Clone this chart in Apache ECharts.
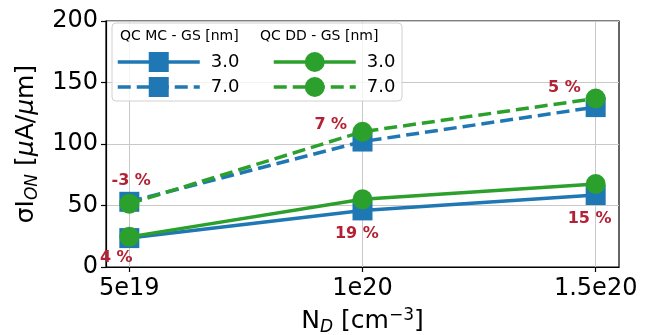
<!DOCTYPE html>
<html>
<head>
<meta charset="utf-8">
<script src="https://cdn.jsdelivr.net/npm/echarts@6/dist/echarts.min.js"></script>
<style>
  html, body { margin: 0; padding: 0; background: #fff; }
  #chart { width: 657px; height: 335px; }
</style>
</head>
<body>
<div id="chart"></div>
<script>
// doping N_D, in units of 1e19 cm^-3
const nd = [5, 10, 15];
const ndTickLabels = ['5e19', '1e20', '1.5e20'];

// sigma I_ON [uA/um]
const mc30 = [23.5, 46, 58.5];
const mc70 = [53, 102, 130];
const dd30 = [24.5, 55, 67.5];
const dd70 = [51.5, 110, 137];

// relative differences written on the plot
const noteText = ['-3 %', '4 %', '7 %', '19 %', '5 %', '15 %'];
const noteX = [5.04, 4.72, 9.32, 9.88, 14.33, 14.87];
const noteY = [70, 7.3, 115.5, 26.8, 145.5, 39];

const blue = '#1f77b4';
const green = '#2ca02c';
const font = 'DejaVu Sans';

const chart = echarts.init(document.getElementById('chart'));

function pts(ys) {
  return nd.map((x, i) => [x, ys[i]]);
}

function lineSeries(name, ys, color, symbol, dashed) {
  return {
    name: name,
    type: 'line',
    data: pts(ys),
    symbol: symbol,
    symbolSize: 20,
    lineStyle: { color: color, width: 3.5, type: dashed ? [13, 6] : 'solid' },
    itemStyle: { color: color },
    z: symbol === 'circle' ? 3 : 2
  };
}

const legendCommon = {
  orient: 'vertical',
  itemWidth: 82,
  itemHeight: 25,
  itemGap: 5,
  selectedMode: false,
  lineStyle: { width: 3.5 },
  textStyle: { fontFamily: font, fontSize: 18, color: '#000', padding: [0, 0, 0, 6] },
  formatter: (n) => n.split(' ')[1]
};

const option = {
  animation: false,
  textStyle: { fontFamily: font },
  grid: {
    left: 106, right: 38, top: 21, bottom: 68,
    outerBoundsMode: 'none',
    containLabel: false,
    show: true, borderColor: '#000', borderWidth: 1.2
  },
  xAxis: {
    type: 'value',
    min: 4.5,
    max: 15.5,
    name: 'N{sub|D} [cm{sup|−3}]',
    nameLocation: 'middle',
    nameGap: 40,
    nameTextStyle: {
      fontFamily: font, fontSize: 25, color: '#000',
      rich: {
        sub: { fontFamily: font, fontSize: 17, fontStyle: 'italic', color: '#000', padding: [12, 0, 0, 0] },
        sup: { fontFamily: font, fontSize: 17, color: '#000', padding: [0, 0, 12, 0] }
      }
    },
    axisLine: { lineStyle: { color: '#000', width: 1.2 } },
    axisTick: { customValues: nd, length: 5, lineStyle: { color: '#000', width: 1.2 } },
    axisLabel: {
      customValues: nd,
      margin: 10,
      fontFamily: font, fontSize: 24, color: '#000',
      formatter: (v) => ndTickLabels[nd.indexOf(v)]
    },
    splitLine: { show: true, lineStyle: { color: '#c8c8c8', width: 1 } }
  },
  yAxis: {
    type: 'value',
    min: 0,
    max: 200,
    interval: 50,
    name: 'σI{sub|ON} [{it|μ}A/{it|μ}m]',
    nameLocation: 'middle',
    nameGap: 65,
    nameTextStyle: {
      fontFamily: font, fontSize: 25, color: '#000',
      rich: {
        sub: { fontFamily: font, fontSize: 17, fontStyle: 'italic', color: '#000', padding: [12, 0, 0, 0] },
        it: { fontFamily: font, fontSize: 25, fontStyle: 'italic', color: '#000' }
      }
    },
    axisLine: { show: true, lineStyle: { color: '#000', width: 1.2 } },
    axisTick: { show: true, length: 5, lineStyle: { color: '#000', width: 1.2 } },
    axisLabel: { margin: 8, fontFamily: font, fontSize: 24, color: '#000' },
    splitLine: { show: true, lineStyle: { color: '#c8c8c8', width: 1 } }
  },
  legend: [
    Object.assign({ left: 111, top: 47, data: ['MC 3.0', 'MC 7.0'] }, legendCommon),
    Object.assign({ left: 267, top: 47, data: ['DD 3.0', 'DD 7.0'] }, legendCommon)
  ],
  graphic: [
    {
      type: 'rect', z: 3, silent: true,
      shape: { x: 112, y: 23, width: 290, height: 78, r: 4 },
      style: { fill: 'rgba(255,255,255,0.8)', stroke: '#d0d0d0', lineWidth: 1 }
    },
    {
      type: 'text', z: 5, left: 120, top: 29, silent: true,
      style: { text: 'QC MC - GS [nm]', fontFamily: font, fontSize: 14, fill: '#000' }
    },
    {
      type: 'text', z: 5, left: 260, top: 29, silent: true,
      style: { text: 'QC DD - GS [nm]', fontFamily: font, fontSize: 14, fill: '#000' }
    }
  ],
  series: [
    lineSeries('MC 3.0', mc30, blue, 'rect', false),
    lineSeries('MC 7.0', mc70, blue, 'rect', true),
    lineSeries('DD 3.0', dd30, green, 'circle', false),
    lineSeries('DD 7.0', dd70, green, 'circle', true),
    {
      type: 'scatter',
      data: noteX.map((x, i) => [x, noteY[i]]),
      symbolSize: 1,
      itemStyle: { color: 'rgba(0,0,0,0)' },
      z: 6,
      label: {
        show: true,
        position: 'inside',
        formatter: (p) => noteText[p.dataIndex],
        fontFamily: font, fontSize: 16, fontWeight: 'bold', color: '#b22234',
        textBorderWidth: 0, opacity: 1
      }
    }
  ]
};

chart.setOption(option);
</script>
</body>
</html>
